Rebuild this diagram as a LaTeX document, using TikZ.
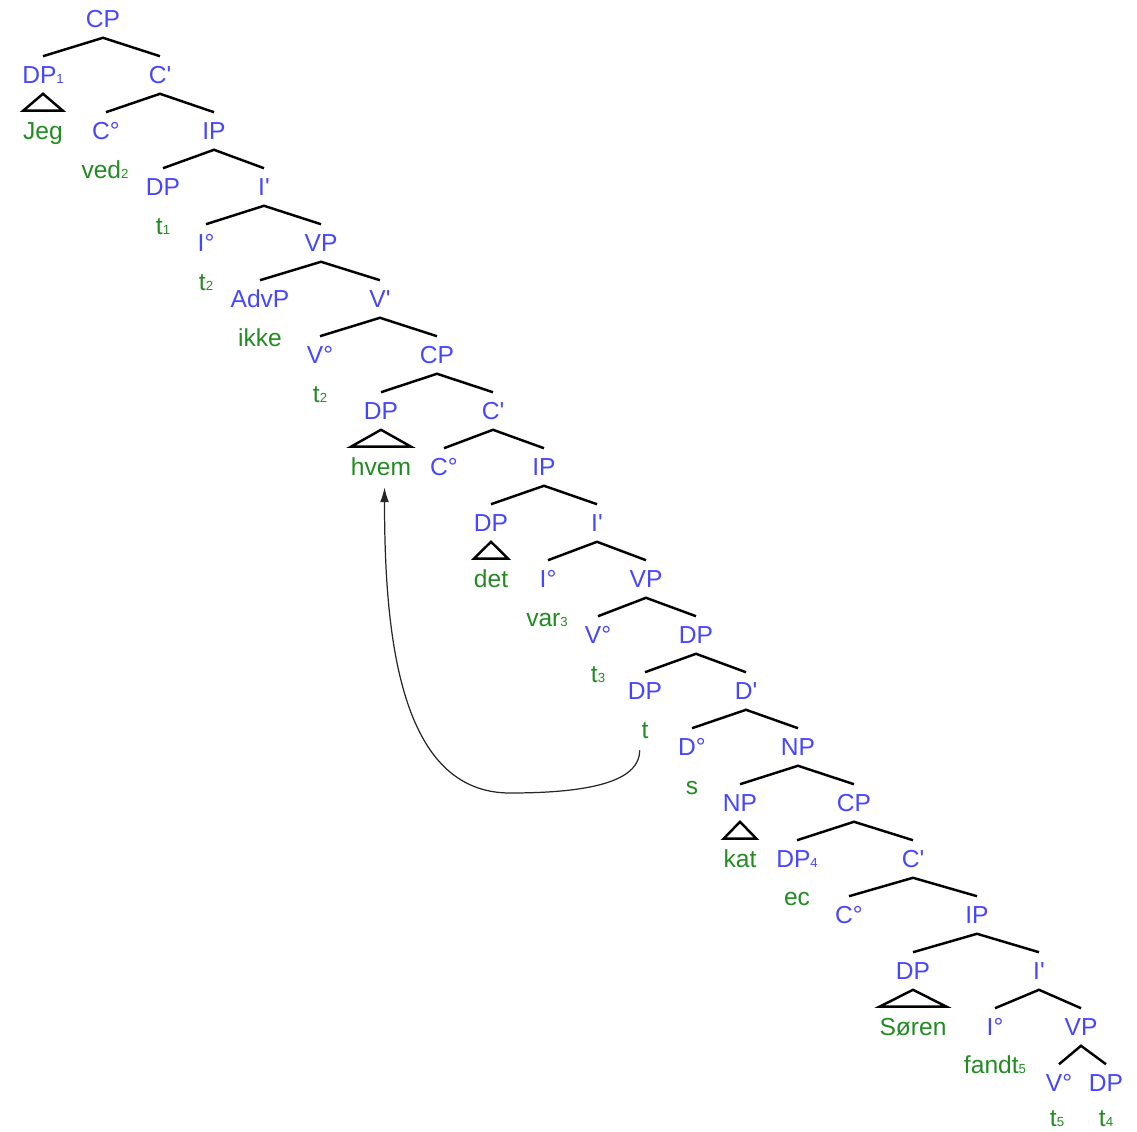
\documentclass[tikz,border=0pt]{standalone}
\usepackage{fontspec}
\setmainfont{Liberation Sans}
\usetikzlibrary{arrows.meta}
\definecolor{catblue}{RGB}{70,70,255}
\definecolor{wordgreen}{RGB}{34,139,34}
\newcommand{\idx}[1]{{\fontsize{7.5}{7.5}\selectfont #1}}
\newcommand{\xbar}{\textquotesingle}

\begin{document}
\begin{tikzpicture}[%
    x=0.02cm, y=-0.02cm,
    >={Latex[length=8.5pt,width=5pt]},
    lab/.style={inner sep=0pt, outer xsep=0pt, text height=10pt, text depth=0pt, font=\fontsize{14}{16}\selectfont},
    cat/.style={lab, outer ysep=0.2cm, text=catblue},
    word/.style={lab, outer ysep=0.23cm, text=wordgreen},
    edge/.style={line width=1.4pt, line join=miter},
    roof/.style={line width=1.4pt, line join=miter},
    move/.style={->, line width=0.7pt, black!85},
  ]
  \useasboundingbox (0,0) rectangle (1137,1132);

  % --- matrix clause ---
  \node[cat] (cpA) at (103,19) {CP};
  \node[cat] (dpA) at (43,75) {DP\idx{1}};
  \node[cat] (cbA) at (160,75) {C\xbar};
  \node[word] (jeg) at (43,131) {Jeg};
  \node[cat] (cA) at (106,131) {C°};
  \node[cat] (ipA) at (214,131) {IP};
  \node[word] (ved) at (105,170) {ved\idx{2}};
  \node[cat] (dpB) at (163,187) {DP};
  \node[cat] (ibA) at (264,187) {I\xbar};
  \node[word] (tA) at (163,226) {t\idx{1}};
  \node[cat] (iA) at (206,243) {I°};
  \node[cat] (vpA) at (321,243) {VP};
  \node[word] (tB) at (206,282) {t\idx{2}};
  \node[cat] (advp) at (260,299) {AdvP};
  \node[cat] (vbA) at (380,299) {V\xbar};
  \node[word] (ikke) at (260,338) {ikke};
  \node[cat] (vA) at (320,355) {V°};
  \node[cat] (cpB) at (437,355) {CP};
  \node[word] (tC) at (320,394) {t\idx{2}};

  % --- embedded question ---
  \node[cat] (dpC) at (381,411) {DP};
  \node[cat] (cbB) at (493,411) {C\xbar};
  \node[word] (hvem) at (381,467) {hvem};
  \node[cat] (cB) at (444,467) {C°};
  \node[cat] (ipB) at (544,467) {IP};
  \node[cat] (dpD) at (491,523) {DP};
  \node[cat] (ibB) at (597,523) {I\xbar};
  \node[word] (det) at (491,579) {det};
  \node[cat] (iB) at (548,579) {I°};
  \node[cat] (vpB) at (646,579) {VP};
  \node[word] (var) at (547,618) {var\idx{3}};
  \node[cat] (vB) at (598,635) {V°};
  \node[cat] (dpE) at (696,635) {DP};
  \node[word] (tD) at (598,674) {t\idx{3}};
  \node[cat] (dpF) at (645,691) {DP};
  \node[cat] (dbA) at (746,691) {D\xbar};
  \node[word] (tE) at (645,730) {t};
  \node[cat] (dA) at (692,747) {D°};
  \node[cat] (npA) at (798,747) {NP};
  \node[word] (s) at (692,786) {s};
  \node[cat] (npB) at (740,803) {NP};
  \node[cat] (cpC) at (854,803) {CP};

  % --- relative clause ---
  \node[word] (kat) at (740,859) {kat};
  \node[cat] (dpG) at (797,859) {DP\idx{4}};
  \node[cat] (cbC) at (913,859) {C\xbar};
  \node[word] (ec) at (797,897) {ec};
  \node[cat] (cC) at (849,915) {C°};
  \node[cat] (ipC) at (977,915) {IP};
  \node[cat] (dpH) at (913,971) {DP};
  \node[cat] (ibC) at (1039,971) {I\xbar};
  \node[word] (soren) at (913,1027) {Søren};
  \node[cat] (iC) at (995,1027) {I°};
  \node[cat] (vpC) at (1081,1027) {VP};
  \node[word] (fandt) at (995,1065) {fandt\idx{5}};
  \node[cat] (vC) at (1059,1083) {V°};
  \node[cat] (dpI) at (1106,1083) {DP};
  \node[word] (tF) at (1057,1118) {t\idx{5}};
  \node[word] (tG) at (1106,1118) {t\idx{4}};

  % branches
  \draw[edge] (dpA.north) -- (cpA.south) -- (cbA.north);
  \draw[edge] (cA.north) -- (cbA.south) -- (ipA.north);
  \draw[edge] (dpB.north) -- (ipA.south) -- (ibA.north);
  \draw[edge] (iA.north) -- (ibA.south) -- (vpA.north);
  \draw[edge] (advp.north) -- (vpA.south) -- (vbA.north);
  \draw[edge] (vA.north) -- (vbA.south) -- (cpB.north);
  \draw[edge] (dpC.north) -- (cpB.south) -- (cbB.north);
  \draw[edge] (cB.north) -- (cbB.south) -- (ipB.north);
  \draw[edge] (dpD.north) -- (ipB.south) -- (ibB.north);
  \draw[edge] (iB.north) -- (ibB.south) -- (vpB.north);
  \draw[edge] (vB.north) -- (vpB.south) -- (dpE.north);
  \draw[edge] (dpF.north) -- (dpE.south) -- (dbA.north);
  \draw[edge] (dA.north) -- (dbA.south) -- (npA.north);
  \draw[edge] (npB.north) -- (npA.south) -- (cpC.north);
  \draw[edge] (dpG.north) -- (cpC.south) -- (cbC.north);
  \draw[edge] (cC.north) -- (cbC.south) -- (ipC.north);
  \draw[edge] (dpH.north) -- (ipC.south) -- (ibC.north);
  \draw[edge] (iC.north) -- (ibC.south) -- (vpC.north);
  \draw[edge] (vC.north) -- (vpC.south) -- (dpI.north);

  % roofs
  \draw[roof] (dpA.south) -- (jeg.north west) -- (jeg.north east) -- cycle;
  \draw[roof] (dpC.south) -- (hvem.north west) -- (hvem.north east) -- cycle;
  \draw[roof] (dpD.south) -- (det.north west) -- (det.north east) -- cycle;
  \draw[roof] (npB.south) -- (kat.north west) -- (kat.north east) -- cycle;
  \draw[roof] (dpH.south) -- (soren.north west) -- (soren.north east) -- cycle;

  % movement of hvem out of the possessor position
  \draw[move] ([xshift=-3pt]tE.south) .. controls +(0,28) and +(90,0) .. (510,793)
    .. controls +(-110,0) and +(0,150) .. ([xshift=2pt]hvem.south);
\end{tikzpicture}
\end{document}
